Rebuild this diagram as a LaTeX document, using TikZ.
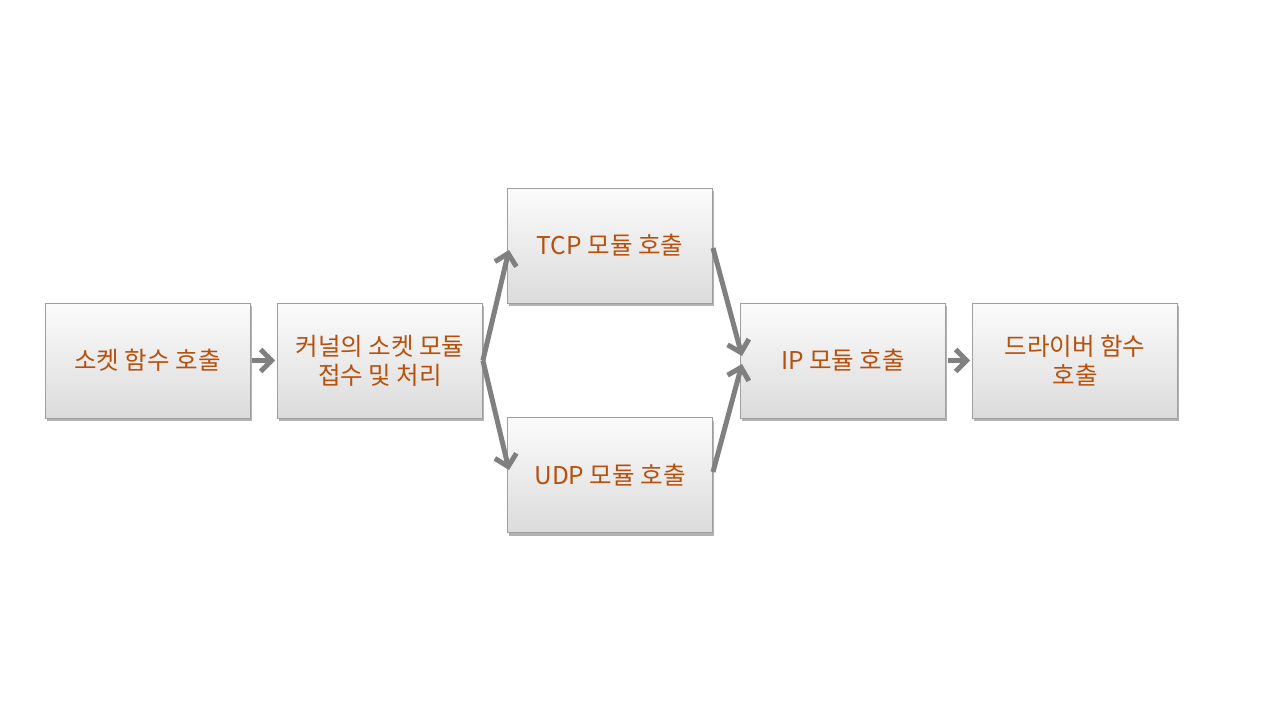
\documentclass[tikz,border=0pt]{standalone}
\usepackage{fontspec}
\newfontfamily\kr{Noto Sans CJK KR}
\usetikzlibrary{arrows.meta,shadows}
\definecolor{txt}{HTML}{B8500C}
\definecolor{arr}{HTML}{808080}
\tikzset{
  box/.style={draw=gray!75, line width=0.8pt, minimum width=205pt, minimum height=115pt,
    top color=white!97!gray, bottom color=gray!28, align=center, text=txt,
    font=\kr\fontsize{24.5}{29}\selectfont,
    drop shadow={shadow xshift=1.5pt, shadow yshift=-3pt, opacity=0.6}},
  conn/.style={draw=arr, line width=5pt, -{Straight Barb[length=11pt,width=22pt,line width=5pt]}}
}
\begin{document}
\begin{tikzpicture}[x=1pt,y=-1pt]
\useasboundingbox[fill=white] (0,0) rectangle (1280,720);
\node[box] (a) at (147.5,360.5) {소켓 함수 호출};
\node[box] (b) at (380,360.5) {커널의 소켓 모듈\\접수 및 처리};
\node[box] (t) at (610,245.5) {TCP 모듈 호출};
\node[box] (u) at (610,475) {UDP 모듈 호출};
\node[box] (i) at (843,360.5) {IP 모듈 호출};
\node[box] (d) at (1075,360.5) {드라이버 함수\\호출};
\coordinate (tin) at (509,250);
\coordinate (uin) at (509,470);
\coordinate (tout) at (713,248);
\coordinate (uout) at (713,472);
\coordinate (iin1) at (742,356);
\coordinate (iin2) at (742,364);
\draw[conn] (a.east) ++(2,0) -- ([xshift=-2pt]b.west);
\draw[conn] (b.east) -- (tin);
\draw[conn] (b.east) -- (uin);
\draw[conn] (tout) -- (iin1);
\draw[conn] (uout) -- (iin2);
\draw[conn] ([xshift=2pt]i.east) -- ([xshift=-2pt]d.west);
\end{tikzpicture}
\end{document}
